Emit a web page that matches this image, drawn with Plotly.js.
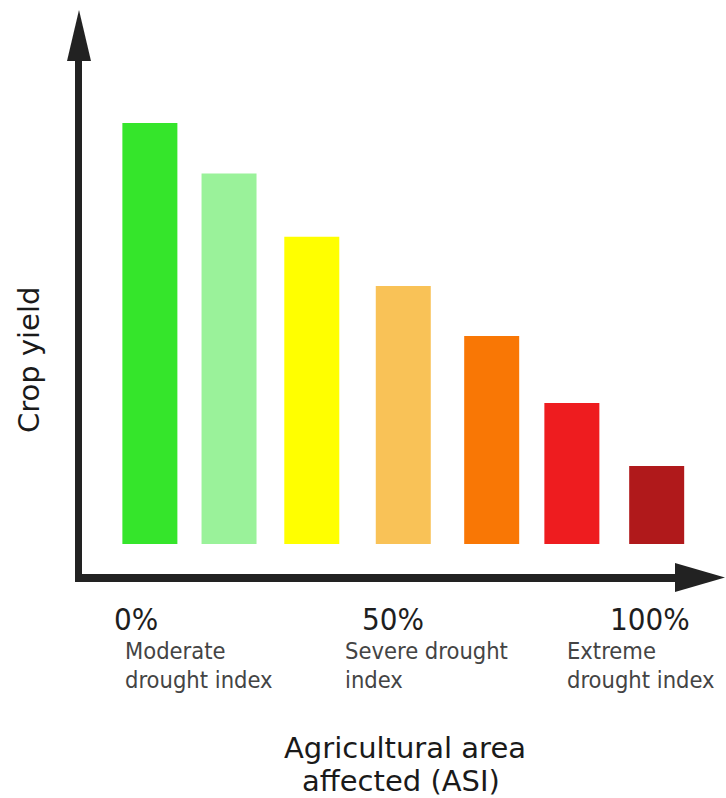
<!DOCTYPE html>
<html>
<head>
<meta charset="utf-8">
<script src="https://cdn.plot.ly/plotly-3.0.1.min.js"></script>
<style>html,body{margin:0;padding:0;background:#fff;}#chart{width:726px;height:798px;}</style>
</head>
<body>
<div id="chart"></div>
<script>
// Data (ASI = agricultural area affected, %; crop yield, relative units)
const asiPositions = [2.7, 18.1, 34.2, 52.0, 69.2, 84.8, 101.3];
const cropYield = [100, 88, 73, 61.3, 49.4, 33.5, 18.5];
const barColors = ['#35e52b', '#9af29a', '#ffff00', '#f9c257', '#f97705', '#ee1c1f', '#b0191b'];
const tickValues = [0, 50, 100];
const tickLabels = ['0%', '50%', '100%'];
const indexLabels = [['Moderate', 'drought index'], ['Severe drought', 'index'], ['Extreme', 'drought index']];

const W = 726, H = 798;
const PX = x => x / W;
const PY = y => 1 - y / H;

const trace = {
  type: 'bar',
  x: asiPositions,
  y: cropYield,
  width: 10.7,
  marker: {color: barColors, line: {width: 0}},
  hoverinfo: 'skip'
};

const axisColor = '#222222';
const shapes = [
  // y axis line + arrow head
  {type: 'rect', xref: 'paper', yref: 'paper', x0: PX(75), x1: PX(82), y0: PY(582), y1: PY(58), fillcolor: axisColor, line: {width: 0}},
  {type: 'path', xref: 'paper', yref: 'paper', path: `M ${PX(67)},${PY(61)} L ${PX(91)},${PY(61)} L ${PX(79)},${PY(10)} Z`, fillcolor: axisColor, line: {width: 0}},
  // x axis line + arrow head
  {type: 'rect', xref: 'paper', yref: 'paper', x0: PX(75), x1: PX(678), y0: PY(582), y1: PY(574), fillcolor: axisColor, line: {width: 0}},
  {type: 'path', xref: 'paper', yref: 'paper', path: `M ${PX(675)},${PY(563)} L ${PX(675)},${PY(592)} L ${PX(725)},${PY(577.5)} Z`, fillcolor: axisColor, line: {width: 0}}
];

const tickFont = {family: 'DejaVu Sans Condensed, DejaVu Sans, sans-serif', size: 31, color: '#1e1e1e'};
const descFont = {family: 'DejaVu Sans Condensed, DejaVu Sans, sans-serif', size: 23.5, color: '#444444'};
const titleFont = {family: 'DejaVu Sans, sans-serif', size: 29, color: '#1a1a1a'};

const annotations = [];
tickValues.forEach((v, i) => {
  annotations.push({xref: 'x', yref: 'paper', x: v, y: PY(618.5), text: tickLabels[i], showarrow: false, xanchor: 'center', yanchor: 'middle', font: tickFont});
});
const descLeft = [125, 345, 567];
indexLabels.forEach((lines, i) => {
  lines.forEach((t, j) => {
    annotations.push({xref: 'paper', yref: 'paper', x: PX(descLeft[i] - 2), y: PY(651 + j * 29), text: t, showarrow: false, xanchor: 'left', yanchor: 'middle', font: descFont});
  });
});
annotations.push({xref: 'paper', yref: 'paper', x: PX(404.5), y: PY(747.5), text: 'Agricultural area', showarrow: false, xanchor: 'center', yanchor: 'middle', font: titleFont});
annotations.push({xref: 'paper', yref: 'paper', x: PX(401.5), y: PY(780.5), text: 'affected (ASI)', showarrow: false, xanchor: 'center', yanchor: 'middle', font: titleFont});
annotations.push({xref: 'paper', yref: 'paper', x: PX(29), y: PY(360), text: 'Crop yield', textangle: -90, showarrow: false, xanchor: 'center', yanchor: 'middle', font: titleFont});

const layout = {
  width: W, height: H,
  margin: {l: 0, r: 0, t: 0, b: 0, pad: 0},
  paper_bgcolor: '#ffffff', plot_bgcolor: '#ffffff',
  showlegend: false,
  xaxis: {range: [-136 / 5.14, (726 - 136) / 5.14], showgrid: false, zeroline: false, showticklabels: false, showline: false, fixedrange: true},
  yaxis: {range: [-(798 - 544) / 4.21, 544 / 4.21], showgrid: false, zeroline: false, showticklabels: false, showline: false, fixedrange: true},
  shapes: shapes,
  annotations: annotations
};

Plotly.newPlot('chart', [trace], layout, {displayModeBar: false, staticPlot: true});
</script>
</body>
</html>
